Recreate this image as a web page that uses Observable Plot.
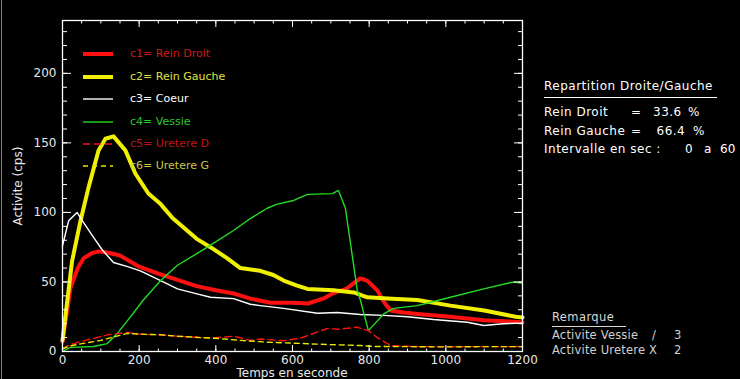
<!DOCTYPE html>
<html><head><meta charset="utf-8">
<script src="https://cdn.jsdelivr.net/npm/d3@7"></script>
<script src="https://cdn.jsdelivr.net/npm/@observablehq/plot@0.6"></script>
<style>
html,body{margin:0;padding:0;background:#000;}
#wrap{position:relative;width:740px;height:379px;background:#000;overflow:hidden;font-family:"DejaVu Sans",sans-serif;}
#wrap svg{position:absolute;left:0;top:0;}
.ov{position:absolute;white-space:pre;font-size:12px;line-height:14px;color:#fff;}
.leg{position:absolute;white-space:pre;font-size:11px;line-height:14px;}
</style></head><body><div id="wrap"></div>
<script>
// ---- data ----
const reinDroitT = [0, 21, 40, 55, 75, 94, 120, 150, 200, 250, 300, 350, 400, 450, 490, 543, 600, 640, 680, 707, 740, 777, 795, 821, 840, 856, 890, 926, 1012, 1100, 1200];
const reinDroitV = [7, 46, 60, 67, 70.5, 72, 71, 69, 61, 56, 51.5, 47, 44, 41.5, 38, 35, 35, 34.5, 38, 42, 45, 52.5, 51, 44, 35, 29.5, 28, 27, 25, 22.5, 21];
const reinGaucheT = [0, 25, 47, 68, 94, 112, 133, 164, 190, 224, 256, 287, 350, 386, 430, 464, 516, 550, 577, 610, 639, 707, 760, 795, 860, 926, 1012, 1100, 1182, 1200];
const reinGaucheV = [8, 65, 94, 118, 144.6, 153, 154.7, 144.6, 128, 113.6, 106, 96, 81, 75, 67, 60, 58, 55, 51, 47.5, 45, 44, 42.5, 39, 38, 37, 33, 29.5, 25, 24.5];
const coeurT = [0, 16, 38, 52, 81, 104, 133, 170, 203, 256, 300, 343, 386, 446, 490, 516, 577, 665, 717, 777, 838, 900, 968, 1056, 1099, 1150, 1200];
const coeurV = [76, 94, 100, 94, 82, 73, 64, 61, 58, 51, 45, 42, 39, 38, 34, 33, 31, 27.5, 28, 26.6, 26, 25, 23, 21, 18.7, 20, 20.4];
const vessieT = [0, 21, 81, 117, 143, 169, 211, 256, 300, 378, 446, 490, 516, 534, 560, 603, 639, 704, 720, 738, 769, 777, 798, 838, 864, 926, 1012, 1099, 1177, 1200];
const vessieV = [0, 3, 3.6, 5.7, 13, 22, 37, 51, 62, 75, 87, 95.6, 100, 103, 106, 108.6, 113, 113.5, 115.8, 103, 44, 37, 15, 27, 31, 33, 39, 45, 50, 49];
const uretereDT = [0, 20, 60, 117, 169, 203, 256, 300, 360, 400, 446, 490, 516, 577, 621, 690, 720, 768, 798, 821, 856, 926, 1000, 1100, 1200];
const uretereDV = [2, 5, 8, 12, 13.7, 12.5, 12, 11, 10, 10, 11, 8, 9, 7.7, 9.6, 16.5, 16, 17.5, 15, 10, 4.3, 3.5, 3.5, 3.5, 3.5];
const uretereGT = [0, 20, 47, 100, 169, 203, 256, 300, 360, 400, 464, 534, 603, 690, 777, 812, 900, 1000, 1100, 1200];
const uretereGV = [2, 4, 5.5, 8, 13, 12.5, 12, 11, 10, 9.5, 8, 6.7, 6, 5, 4.3, 3.6, 3.5, 3.3, 3.5, 3.5];

const seriesNames = ["c1= Rein Droit", "c2= Rein Gauche", "c3= Coeur", "c4= Vessie", "c5= Uretere D", "c6= Uretere G"];
const xMajorTicks = [0, 200, 400, 600, 800, 1000, 1200];
const xMinorTicks = d3.range(0, 1201, 50);
const yMajorTicks = [0, 50, 100, 150, 200];
const yMinorTicks = d3.range(0, 231, 10);
const xLabel = "Temps en seconde";
const yLabel = "Activite (cps)";
const panelTitle = "Repartition Droite/Gauche";
const panelRows = [["Rein Droit", "33.6", "%"], ["Rein Gauche", "66.4", "%"]];
const intervalLabel = ["Intervalle en sec :", "0", "a", "60"];
const remarkTitle = "Remarque";
const remarkRows = [["Activite Vessie", "/", "3"], ["Activite Uretere X", "", "2"]];

// ---- styles ----
const styles = [
  {stroke: "#ff1010", width: 4, dash: null, text: "#d01818"},
  {stroke: "#f0f000", width: 4, dash: null, text: "#e0e040"},
  {stroke: "#ffffff", width: 1.4, dash: null, text: "#ffffff"},
  {stroke: "#22dd22", width: 1.4, dash: null, text: "#2cc82c"},
  {stroke: "#ff1010", width: 1.4, dash: "7,4", text: "#c01414"},
  {stroke: "#e8e800", width: 1.4, dash: "5,4", text: "#c8c84a"}
];
const allT = [reinDroitT, reinGaucheT, coeurT, vessieT, uretereDT, uretereGT];
const allV = [reinDroitV, reinGaucheV, coeurV, vessieV, uretereDV, uretereGV];
const series = allT.map((ts, i) => ts.map((t, j) => ({t, v: allV[i][j], s: seriesNames[i]})));

const L = 62, R = 218, T = 20, B = 28;
const axisCommon = {label: null, stroke: "white", color: "#e8e8e8", tickFormat: () => ""};
const marks = [];
series.forEach((d, i) => {
  const st = styles[i];
  marks.push(Plot.line(d, {x: "t", y: "v", stroke: st.stroke, strokeWidth: st.width, strokeDasharray: st.dash, strokeLinejoin: "round", strokeLinecap: "round"}));
});
// inward ticks: tick shape of the opposite side, placed on this side of the frame
const opp = {bottom: "top", top: "bottom", left: "right", right: "left"};
for (const side of ["bottom", "top"]) {
  marks.push(Plot.axisX(xMinorTicks, {...axisCommon, anchor: opp[side], frameAnchor: side, tickSize: 3.5}));
  marks.push(Plot.axisX(xMajorTicks, {...axisCommon, anchor: opp[side], frameAnchor: side, tickSize: 7}));
}
for (const side of ["left", "right"]) {
  marks.push(Plot.axisY(yMinorTicks, {...axisCommon, anchor: opp[side], frameAnchor: side, tickSize: 4}));
  marks.push(Plot.axisY(yMajorTicks, {...axisCommon, anchor: opp[side], frameAnchor: side, tickSize: 8}));
}
marks.push(Plot.axisX(xMajorTicks, {label: null, color: "#e8e8e8", anchor: "bottom", tickSize: 0, tickPadding: 4, tickFormat: d => String(d)}));
marks.push(Plot.axisY(yMajorTicks, {label: null, color: "#e8e8e8", anchor: "left", tickSize: 0, tickPadding: 6, tickFormat: d => String(d)}));
marks.push(Plot.frame({stroke: "white", strokeWidth: 1.3}));

const chart = Plot.plot({
  width: 740, height: 379,
  marginLeft: L, marginRight: R, marginTop: T, marginBottom: B,
  x: {domain: [0, 1200], label: null},
  y: {domain: [0, 238], label: null},
  style: {background: "black", color: "#e8e8e8", fontFamily: "DejaVu Sans", fontSize: "12px", overflow: "visible"},
  marks
});
const wrap = document.getElementById("wrap");
wrap.appendChild(chart);

function ov(text, left, top, cls = "ov", extra = {}) {
  const d = document.createElement("div");
  d.className = cls; d.textContent = text;
  d.style.left = left + "px"; d.style.top = top + "px";
  Object.assign(d.style, extra);
  wrap.appendChild(d);
  return d;
}
// gray left window edge
const edge = document.createElement("div");
Object.assign(edge.style, {position: "absolute", left: "1px", top: "0", width: "1px", height: "379px", background: "#8a7f86"});
wrap.appendChild(edge);

// axis titles
ov(xLabel, 0, 366, "ov", {width: "584px", textAlign: "center", left: "0px", color: "#e8e8e8"});
const yl = ov(yLabel, 0, 0, "ov", {color: "#e8e8e8", width: "200px", textAlign: "center"});
yl.style.left = (18 - 100) + "px"; yl.style.top = (186 - 7) + "px"; yl.style.transform = "rotate(-90deg)";

// legend
const legY = [54, 76.5, 99, 121.5, 144, 166];
seriesNames.forEach((name, i) => {
  const st = styles[i];
  const svg = d3.create("svg").attr("width", 34).attr("height", 10)
    .style("position", "absolute").style("left", "81px").style("top", (legY[i] - 5) + "px");
  svg.append("line").attr("x1", 2).attr("x2", 32).attr("y1", 5).attr("y2", 5)
    .attr("stroke", st.stroke).attr("stroke-width", st.width).attr("stroke-dasharray", st.dash);
  wrap.appendChild(svg.node());
  ov(name, 130, legY[i] - 7, "leg", {color: st.text});
});

// right panel
const px = 544;
ov(panelTitle, px, 79, "ov", {letterSpacing: "0.5px"});
const ul = document.createElement("div");
Object.assign(ul.style, {position: "absolute", left: px + "px", top: "97px", width: "173px", height: "1px", background: "#fff"});
wrap.appendChild(ul);
const rowY = [105, 124];
const numX = [653, 656.5];
const pctX = [688, 693];
panelRows.forEach((r, i) => {
  ov(r[0], px, rowY[i], "ov", {letterSpacing: "0.5px"});
  ov("=", 631, rowY[i]);
  ov(r[1], numX[i], rowY[i], "ov", {letterSpacing: "0.5px"});
  ov(r[2], pctX[i], rowY[i]);
});
ov(intervalLabel[0], px, 142, "ov", {letterSpacing: "0.5px"});
ov(intervalLabel[1], 685, 142);
ov(intervalLabel[2], 704, 142);
ov(intervalLabel[3], 720, 142);

// remark
const rx = 552;
ov(remarkTitle, rx, 310, "ov", {fontSize: "11.5px", color: "#d8d8d8", letterSpacing: "0.4px"});
const ul2 = document.createElement("div");
Object.assign(ul2.style, {position: "absolute", left: rx + "px", top: "326px", width: "74px", height: "1px", background: "#d8d8d8"});
wrap.appendChild(ul2);
const remY = [328, 343];
remarkRows.forEach((r, i) => {
  ov(r[0], rx, remY[i], "ov", {fontSize: "11.5px", color: "#d0d0d0", letterSpacing: "0.2px"});
  if (r[1]) ov(r[1], 652, remY[i], "ov", {fontSize: "11.5px", color: "#d0d0d0"});
  ov(r[2], 674, remY[i], "ov", {fontSize: "11.5px", color: "#d0d0d0"});
});
</script></body></html>
